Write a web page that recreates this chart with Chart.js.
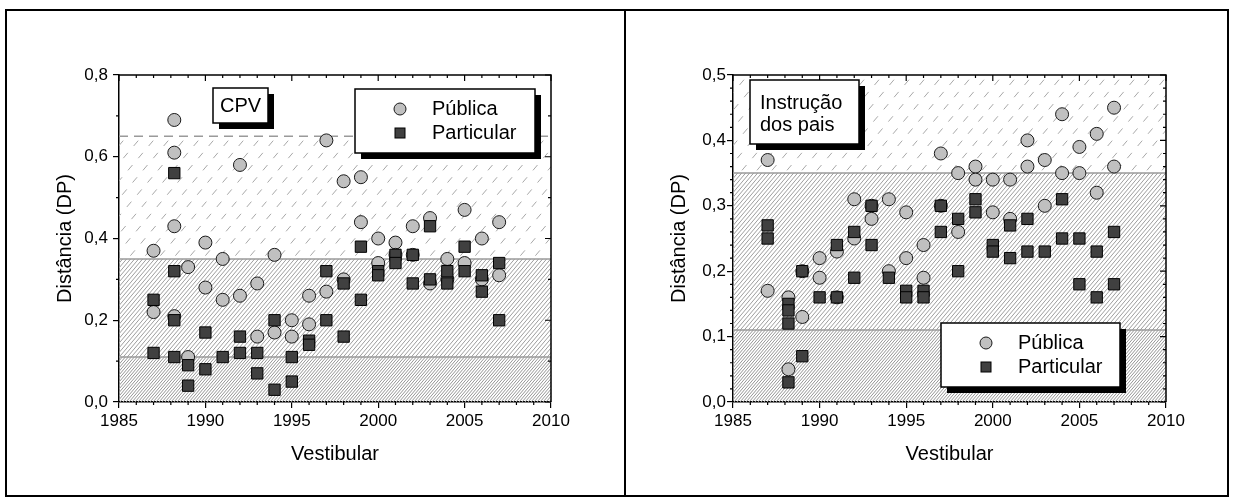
<!DOCTYPE html>
<html lang="pt">
<head>
<meta charset="utf-8">
<title>Distância (DP) - Vestibular</title>
<script src="https://cdn.jsdelivr.net/npm/chart.js@4.4.0/dist/chart.umd.min.js"></script>
<style>
    body { margin: 0; background: #fff; width: 1234px; height: 500px; overflow: hidden; position: relative; }
    #moldura { position: absolute; left: 5px; top: 9px; width: 1224px; height: 488px; border: 2px solid #000; box-sizing: border-box; }
    #divisoria { position: absolute; left: 624px; top: 9px; width: 2px; height: 488px; background: #000; }
    canvas { position: absolute; top: 0; }
</style>
</head>
<body>
<div id="moldura"></div>
<div id="divisoria"></div>
<canvas id="cpvChart" width="617" height="500" style="left:0"></canvas>
<canvas id="paisChart" width="617" height="500" style="left:617px"></canvas>

<script>
// Dados (Vestibular x Distância em DP)
const anosCpvPublica = [1987, 1987, 1988.2, 1988.2, 1988.2, 1988.2, 1989, 1989, 1990, 1990, 1991, 1991, 1992, 1992, 1993, 1993, 1994, 1994, 1995, 1995, 1996, 1996, 1997, 1997, 1998, 1998, 1999, 1999, 2000, 2000, 2001, 2001, 2002, 2002, 2003, 2003, 2004, 2004, 2005, 2005, 2006, 2006, 2007, 2007];
const distCpvPublica = [0.37, 0.22, 0.69, 0.61, 0.43, 0.21, 0.33, 0.11, 0.39, 0.28, 0.35, 0.25, 0.58, 0.26, 0.29, 0.16, 0.36, 0.17, 0.20, 0.16, 0.26, 0.19, 0.64, 0.27, 0.54, 0.30, 0.55, 0.44, 0.40, 0.34, 0.39, 0.36, 0.43, 0.36, 0.45, 0.29, 0.35, 0.30, 0.47, 0.34, 0.40, 0.30, 0.44, 0.31];

const anosCpvParticular = [1987, 1987, 1988.2, 1988.2, 1988.2, 1988.2, 1989, 1989, 1990, 1990, 1991, 1992, 1992, 1993, 1993, 1994, 1994, 1995, 1995, 1996, 1996, 1997, 1997, 1998, 1998, 1999, 1999, 2000, 2000, 2001, 2001, 2002, 2002, 2003, 2003, 2004, 2004, 2005, 2005, 2006, 2006, 2007, 2007];
const distCpvParticular = [0.25, 0.12, 0.56, 0.32, 0.20, 0.11, 0.09, 0.04, 0.17, 0.08, 0.11, 0.16, 0.12, 0.12, 0.07, 0.20, 0.03, 0.11, 0.05, 0.15, 0.14, 0.32, 0.20, 0.29, 0.16, 0.38, 0.25, 0.32, 0.31, 0.36, 0.34, 0.36, 0.29, 0.43, 0.30, 0.32, 0.29, 0.38, 0.32, 0.31, 0.27, 0.34, 0.20];

const anosPaisPublica = [1987, 1987, 1988.2, 1988.2, 1989, 1989, 1990, 1990, 1991, 1991, 1992, 1992, 1993, 1993, 1994, 1994, 1995, 1995, 1996, 1996, 1997, 1997, 1998, 1998, 1999, 1999, 2000, 2000, 2001, 2001, 2002, 2002, 2003, 2003, 2004, 2004, 2005, 2005, 2006, 2006, 2007, 2007];
const distPaisPublica = [0.37, 0.17, 0.16, 0.05, 0.20, 0.13, 0.22, 0.19, 0.23, 0.16, 0.31, 0.25, 0.30, 0.28, 0.31, 0.20, 0.29, 0.22, 0.24, 0.19, 0.38, 0.30, 0.35, 0.26, 0.36, 0.34, 0.34, 0.29, 0.34, 0.28, 0.40, 0.36, 0.37, 0.30, 0.44, 0.35, 0.39, 0.35, 0.41, 0.32, 0.45, 0.36];

const anosPaisParticular = [1987, 1987, 1988.2, 1988.2, 1988.2, 1988.2, 1989, 1989, 1990, 1991, 1991, 1992, 1992, 1993, 1993, 1994, 1995, 1995, 1996, 1996, 1997, 1997, 1998, 1998, 1999, 1999, 2000, 2000, 2001, 2001, 2002, 2002, 2003, 2004, 2004, 2005, 2005, 2006, 2006, 2007, 2007];
const distPaisParticular = [0.27, 0.25, 0.15, 0.14, 0.12, 0.03, 0.20, 0.07, 0.16, 0.24, 0.16, 0.26, 0.19, 0.30, 0.24, 0.19, 0.17, 0.16, 0.17, 0.16, 0.30, 0.26, 0.28, 0.20, 0.31, 0.29, 0.24, 0.23, 0.27, 0.22, 0.28, 0.23, 0.23, 0.31, 0.25, 0.25, 0.18, 0.23, 0.16, 0.26, 0.18];

const nomesSeries = ['Pública', 'Particular'];
const anosEixo = [1985, 1990, 1995, 2000, 2005, 2010];
const cpvEixoY = [0.0, 0.2, 0.4, 0.6, 0.8];
const paisEixoY = [0.0, 0.1, 0.2, 0.3, 0.4, 0.5];
const cpvFaixas = [0.11, 0.35, 0.65];
const paisFaixas = [0.11, 0.35];

const FONTE = '"Liberation Sans", Arial, Helvetica, sans-serif';
const INCLINACAO = 0.85;

Chart.defaults.font.family = FONTE;
Chart.defaults.color = '#000';

function pontos(anos, valores) {
    return anos.map((a, i) => ({ x: a, y: valores[i] }));
}

function virgula(v) {
    return Number(v).toFixed(1).replace('.', ',');
}

// Plugin: hachuras, eixos espelhados, ticks menores, caixas de texto e legenda
const molduraPlugin = {
    id: 'moldura',

    hachura(ctx, area, yBase, yTopo, espaco, traco, cor) {
        ctx.save();
        ctx.beginPath();
        ctx.rect(area.left, yTopo, area.right - area.left, yBase - yTopo);
        ctx.clip();
        ctx.strokeStyle = cor;
        ctx.lineWidth = 1;
        ctx.setLineDash(traco || []);
        const dx = (area.bottom - area.top) * INCLINACAO;
        ctx.beginPath();
        for (let x = area.left - dx; x < area.right; x += espaco) {
            ctx.moveTo(x, area.bottom);
            ctx.lineTo(x + dx, area.top);
        }
        ctx.stroke();
        ctx.restore();
    },

    linha(ctx, area, y, traco) {
        ctx.save();
        ctx.strokeStyle = '#9a9a9a';
        ctx.lineWidth = 1.5;
        ctx.setLineDash(traco || []);
        ctx.beginPath();
        ctx.moveTo(area.left, y);
        ctx.lineTo(area.right, y);
        ctx.stroke();
        ctx.restore();
    },

    beforeDatasetsDraw(chart, args, opts) {
        const ctx = chart.ctx;
        const area = chart.chartArea;
        const y = chart.scales.y;
        const f = opts.faixas;
        const yMax = y.getPixelForValue(y.max);
        const topoEsparso = f.length > 2 ? y.getPixelForValue(f[2]) : yMax;

        this.hachura(ctx, area, y.getPixelForValue(0), y.getPixelForValue(f[0]), 3, null, '#969696');
        this.hachura(ctx, area, y.getPixelForValue(f[0]), y.getPixelForValue(f[1]), 4, null, '#9e9e9e');
        this.hachura(ctx, area, y.getPixelForValue(f[1]), topoEsparso, 15, [7, 9], '#a8a8a8');

        this.linha(ctx, area, y.getPixelForValue(f[0]));
        this.linha(ctx, area, y.getPixelForValue(f[1]));
        if (f.length > 2) this.linha(ctx, area, topoEsparso, [9, 6]);
    },

    afterDatasetsDraw(chart, args, opts) {
        const ctx = chart.ctx;
        const area = chart.chartArea;
        const sx = chart.scales.x;
        const sy = chart.scales.y;

        ctx.save();
        ctx.strokeStyle = '#000';
        ctx.lineWidth = 1.5;
        ctx.beginPath();
        ctx.moveTo(area.left, area.top);
        ctx.lineTo(area.right, area.top);
        ctx.lineTo(area.right, area.bottom);
        ctx.stroke();

        // ticks: maiores e menores, para fora em baixo/esquerda, para dentro em cima/direita
        ctx.lineWidth = 1.2;
        ctx.beginPath();
        for (let v = sx.min; v <= sx.max + 1e-9; v += opts.passoX) {
            const px = sx.getPixelForValue(v);
            const maior = Math.abs(Math.round(v / 5) * 5 - v) < 1e-6;
            const t = maior ? 6 : 3;
            ctx.moveTo(px, area.top);
            ctx.lineTo(px, area.top + t);
            if (!maior) {
                ctx.moveTo(px, area.bottom);
                ctx.lineTo(px, area.bottom + t);
            }
        }
        const nPassos = Math.round((sy.max - sy.min) / opts.passoY);
        for (let i = 0; i <= nPassos; i++) {
            const v = sy.min + i * opts.passoY;
            const py = sy.getPixelForValue(v);
            const maior = Math.abs(Math.round(v / opts.passoMaiorY) * opts.passoMaiorY - v) < 1e-6;
            const t = maior ? 6 : 3;
            ctx.moveTo(area.right, py);
            ctx.lineTo(area.right - t, py);
            if (!maior) {
                ctx.moveTo(area.left, py);
                ctx.lineTo(area.left - t, py);
            }
        }
        ctx.stroke();

        // caixa de título com sombra
        const c = opts.caixa;
        this.caixaSombra(ctx, c.x, c.y, c.w, c.h);
        ctx.fillStyle = '#000';
        ctx.font = '20px ' + FONTE;
        ctx.textBaseline = 'middle';
        c.linhas.forEach((txt, i) => {
            ctx.textAlign = c.centro ? 'center' : 'left';
            const tx = c.centro ? c.x + c.w / 2 : c.x + 10;
            ctx.fillText(txt, tx, c.y + c.primeira + i * 22);
        });

        // legenda
        const l = opts.legenda;
        this.caixaSombra(ctx, l.x, l.y, l.w, l.h);
        const mx = l.x + 45;
        ctx.lineWidth = 1;
        ctx.strokeStyle = '#1a1a1a';
        ctx.fillStyle = '#c0c0c0';
        ctx.beginPath();
        ctx.arc(mx, l.y + 20, 6, 0, Math.PI * 2);
        ctx.fill();
        ctx.stroke();
        ctx.fillStyle = '#404040';
        ctx.strokeStyle = '#000';
        ctx.fillRect(mx - 5, l.y + 39, 10, 10);
        ctx.strokeRect(mx - 5, l.y + 39, 10, 10);
        ctx.fillStyle = '#000';
        ctx.textAlign = 'left';
        ctx.font = '20px ' + FONTE;
        ctx.fillText(nomesSeries[0], l.x + 77, l.y + 20);
        ctx.fillText(nomesSeries[1], l.x + 77, l.y + 44);
        ctx.restore();
    },

    caixaSombra(ctx, x, y, w, h) {
        ctx.fillStyle = '#000';
        ctx.fillRect(x + 6, y + 6, w, h);
        ctx.fillStyle = '#fff';
        ctx.fillRect(x, y, w, h);
        ctx.strokeStyle = '#000';
        ctx.lineWidth = 1.5;
        ctx.setLineDash([]);
        ctx.strokeRect(x, y, w, h);
    }
};

function criarGrafico(id, cfg) {
    const ctx = document.getElementById(id);
    const chart = new Chart(ctx, {
        type: 'scatter',
        data: {
            datasets: [{
                label: nomesSeries[0],
                data: pontos(cfg.anosPub, cfg.distPub),
                pointStyle: 'circle',
                pointRadius: 6.5,
                backgroundColor: '#c0c0c0',
                borderColor: '#1a1a1a',
                borderWidth: 1,
                order: 1
            }, {
                label: nomesSeries[1],
                data: pontos(cfg.anosPart, cfg.distPart),
                pointStyle: 'rect',
                pointRadius: 8,
                backgroundColor: '#404040',
                borderColor: '#000',
                borderWidth: 1,
                order: 0
            }]
        },
        options: {
            responsive: false,
            animation: false,
            events: [],
            layout: { padding: { left: cfg.area.left - 70, top: cfg.area.top, right: 617 - cfg.area.right, bottom: 500 - cfg.area.bottom - 68 } },
            plugins: {
                legend: { display: false },
                tooltip: { enabled: false },
                moldura: {
                    faixas: cfg.faixas,
                    passoX: 1,
                    passoY: cfg.passoY,
                    passoMaiorY: cfg.passoMaiorY,
                    caixa: cfg.caixa,
                    legenda: cfg.legenda
                }
            },
            scales: {
                x: {
                    type: 'linear',
                    min: anosEixo[0],
                    max: anosEixo[anosEixo.length - 1],
                    afterBuildTicks: (s) => { s.ticks = anosEixo.map(v => ({ value: v })); },
                    afterFit: (s) => { s.height = 68; },
                    ticks: { font: { size: 17 }, color: '#000', padding: 3, maxRotation: 0, callback: (v) => String(v) },
                    grid: { drawOnChartArea: false, drawTicks: true, tickLength: 6, color: '#000', lineWidth: 1.2 },
                    border: { display: true, color: '#000', width: 1.5 },
                    title: { display: true, text: 'Vestibular', font: { size: 20 }, color: '#000', padding: 4 }
                },
                y: {
                    type: 'linear',
                    min: cfg.eixoY[0],
                    max: cfg.eixoY[cfg.eixoY.length - 1],
                    afterBuildTicks: (s) => { s.ticks = cfg.eixoY.map(v => ({ value: v })); },
                    afterFit: (s) => { s.width = 70; },
                    ticks: { font: { size: 17 }, color: '#000', padding: cfg.padY, callback: virgula },
                    grid: { drawOnChartArea: false, drawTicks: true, tickLength: 6, color: '#000', lineWidth: 1.2 },
                    border: { display: true, color: '#000', width: 1.5 },
                    title: { display: true, text: 'Distância (DP)', font: { size: 20 }, color: '#000', padding: 4 }
                }
            }
        },
        plugins: [molduraPlugin]
    });

    // acerta a área do gráfico para a posição do original
    const a = chart.chartArea;
    const p = chart.options.layout.padding;
    p.left += cfg.area.left - a.left;
    p.top += cfg.area.top - a.top;
    p.right += a.right - cfg.area.right;
    p.bottom += a.bottom - cfg.area.bottom;
    chart.update();
    return chart;
}

document.addEventListener('DOMContentLoaded', function() {
    criarGrafico('cpvChart', {
        anosPub: anosCpvPublica, distPub: distCpvPublica,
        anosPart: anosCpvParticular, distPart: distCpvParticular,
        eixoY: cpvEixoY, faixas: cpvFaixas,
        passoY: 0.1, passoMaiorY: 0.2, padY: 5,
        area: { left: 119, top: 75, right: 551, bottom: 402 },
        caixa: { x: 213, y: 88, w: 55, h: 35, linhas: ['CPV'], centro: true, primeira: 18 },
        legenda: { x: 355, y: 89, w: 180, h: 64 }
    });

    criarGrafico('paisChart', {
        anosPub: anosPaisPublica, distPub: distPaisPublica,
        anosPart: anosPaisParticular, distPart: distPaisParticular,
        eixoY: paisEixoY, faixas: paisFaixas,
        passoY: 0.02, passoMaiorY: 0.1, padY: 1,
        area: { left: 116, top: 75, right: 549, bottom: 402 },
        caixa: { x: 133, y: 80, w: 109, h: 64, linhas: ['Instrução', 'dos pais'], centro: false, primeira: 23 },
        legenda: { x: 324, y: 323, w: 179, h: 64 }
    });
});
</script>
</body>
</html>
